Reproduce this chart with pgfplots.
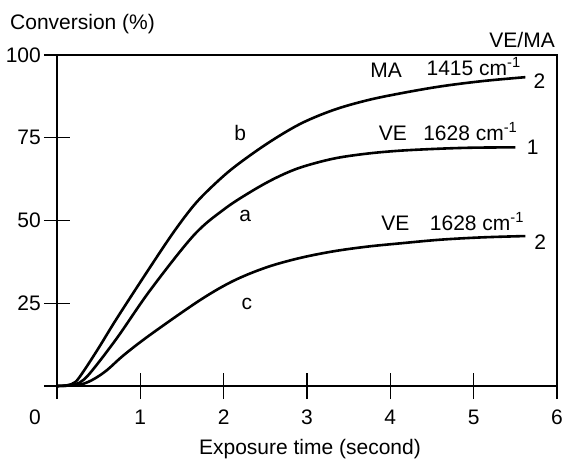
\documentclass[border=0pt]{standalone}
\usepackage{fontspec}
\setmainfont{Liberation Sans}
\usepackage{pgfplots}
\pgfplotsset{compat=1.18}
\begin{document}
\fontsize{21}{25}\selectfont
\begin{tikzpicture}
\begin{axis}[
  at={(0,0)}, anchor=south west,
  width=500pt, height=331pt, scale only axis,
  xmin=0, xmax=6, ymin=0, ymax=100,
  axis line style={line width=1.1pt},
  xtick={0,1,2,3,4,5,6}, xticklabels={,1,2,3,4,5,6},
  ytick={0,25,50,75,100}, yticklabels={,25,50,75,100},
  xtick pos=bottom, ytick pos=left,
  tick align=center, major tick length=26pt,
  tick style={line width=1.1pt, black},
  /pgf/number format/assume math mode=true,
  ticklabel style={font=\fontsize{21}{25}\selectfont},
  xticklabel style={yshift=-4pt},
  yticklabel style={xshift=4pt},
  clip=false,
]
\addplot[smooth, tension=0.55, line width=2.6pt, black] coordinates {
(0,0) (0.12,0.2) (0.22,1.2) (0.32,4.5) (0.5,11.5) (0.72,20.5) (1.12,36) (1.4,46.5) (1.64,54.5) (1.85,60) (2.12,66) (2.52,73.2) (2.92,79.2) (3.32,83.4) (3.72,86.3) (4.12,88.4) (4.6,90.5) (5.1,92.1) (5.62,93.3)};
\addplot[smooth, tension=0.55, line width=2.6pt, black] coordinates {
(0,0) (0.16,0.2) (0.27,1) (0.4,4) (0.72,14.5) (1.12,29) (1.64,45.5) (2.0,53.3) (2.32,58.6) (2.62,62.8) (2.92,66.0) (3.32,68.7) (3.72,70.2) (4.12,71.1) (4.6,71.7) (5.0,72) (5.5,72.1)};
\addplot[smooth, tension=0.55, line width=2.6pt, black] coordinates {
(0,0) (0.2,0.2) (0.32,0.7) (0.45,2.2) (0.6,4.8) (0.8,9.3) (1.12,15.5) (1.72,26) (2.12,31.8) (2.52,35.9) (2.92,38.7) (3.32,40.7) (3.72,42.1) (4.12,43.1) (4.6,44.2) (5.1,44.9) (5.62,45.3)};
\node[anchor=base] at (axis cs:2.2,74.3) {b};
\node[anchor=base] at (axis cs:2.26,49.6) {a};
\node[anchor=base] at (axis cs:2.28,23) {c};
\node[anchor=base] at (axis cs:3.95,93.3) {MA};
\node[anchor=base] at (axis cs:5.0,93.8) {1415 cm\textsuperscript{-1}};
\node[anchor=base] at (axis cs:5.79,90) {2};
\node[anchor=base] at (axis cs:4.03,74.3) {VE};
\node[anchor=base] at (axis cs:4.96,74.3) {1628 cm\textsuperscript{-1}};
\node[anchor=base] at (axis cs:5.71,69.8) {1};
\node[anchor=base] at (axis cs:4.06,47.1) {VE};
\node[anchor=base] at (axis cs:5.04,47.1) {1628 cm\textsuperscript{-1}};
\node[anchor=base] at (axis cs:5.8,41.1) {2};
\end{axis}
\node[anchor=base west, inner sep=0pt] at (-47pt,356pt) {Conversion (\%)};
\node[anchor=base east, inner sep=0pt] at (498pt,338pt) {VE/MA};
\node[anchor=base, inner sep=0pt] at (253pt,-69pt) {Exposure time (second)};
\node[anchor=base, inner sep=0pt] at (-22pt,-39pt) {0};
\pgfresetboundingbox
\path[use as bounding box] (-57pt,-74pt) rectangle (511pt,386pt);
\end{tikzpicture}
\end{document}
